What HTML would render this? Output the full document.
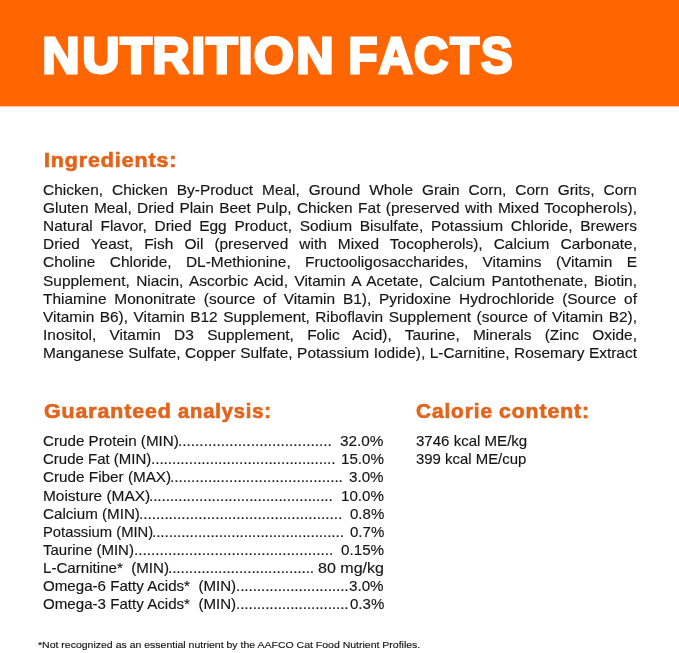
<!DOCTYPE html>
<html lang="en"><head><meta charset="utf-8"><title>Nutrition Facts</title>
<style>
html,body{margin:0;padding:0;background:#fff;}
body{width:679px;height:653px;position:relative;overflow:hidden;font-family:"Liberation Sans",sans-serif;color:#151515;}
.band{position:absolute;left:0;top:0;width:679px;height:107px;background:linear-gradient(to bottom,#ff6600 0,#ff6600 106px,#ffc29a 106px,#ffc29a 107px);}
.ttl{position:absolute;left:0;top:0;}
.t,.h,.l,.d{position:absolute;white-space:pre;transform-origin:0 0;line-height:18px;}
.t,.l,.d{font-size:14.3px;-webkit-text-stroke:0.15px #151515;}
.h{color:#e2641b;font-weight:bold;font-size:19.4px;line-height:24px;-webkit-text-stroke:0.65px #e2641b;letter-spacing:0.85px;}
.l{text-align:justify;text-align-last:justify;white-space:nowrap;}
.d{overflow:hidden;}
</style></head><body>
<div class="band"></div>

<svg class="ttl" width="679" height="106" viewBox="0 0 679 106"><g font-family='"Liberation Sans",sans-serif' font-weight="bold" font-size="50.3" fill="#fff" stroke="#fff" stroke-width="2.8" stroke-linejoin="miter" stroke-miterlimit="2"><text transform="scale(1.03,1)" x="41.11 79.80 116.68 147.87 185.49 199.98 231.30 246.48 287.61" y="73.2">NUTRITION</text><text transform="scale(0.94,1)" x="370.87 402.94 440.33 478.90 511.79" y="73.2">FACTS</text></g></svg>
<div class="h" style="left:43.50px;top:148.00px;transform:scaleX(1.0999)">Ingredients:</div>
<div class="h" style="left:43.85px;top:399.10px;transform:scaleX(1.0982)">Guaranteed</div>
<div class="h" style="left:177.93px;top:399.10px;transform:scaleX(1.0355)">analysis:</div>
<div class="h" style="left:416.46px;top:399.10px;transform:scaleX(1.0729)">Calorie</div>
<div class="h" style="left:499.45px;top:399.10px;transform:scaleX(1.0929)">content:</div>
<div class="t" style="left:42.99px;top:432.20px;transform:scaleX(1.0615)">Crude Protein (MIN)</div>
<div class="t" style="left:340.36px;top:432.20px;transform:scaleX(1.0709)">32.0%</div>
<div class="t" style="left:43.00px;top:450.30px;transform:scaleX(1.0485)">Crude Fat (MIN)</div>
<div class="t" style="left:340.76px;top:450.30px;transform:scaleX(1.0609)">15.0%</div>
<div class="t" style="left:42.99px;top:468.40px;transform:scaleX(1.0682)">Crude Fiber (MAX)</div>
<div class="t" style="left:349.27px;top:468.40px;transform:scaleX(1.0603)">3.0%</div>
<div class="t" style="left:42.74px;top:486.50px;transform:scaleX(1.0796)">Moisture (MAX)</div>
<div class="t" style="left:340.76px;top:486.50px;transform:scaleX(1.0609)">10.0%</div>
<div class="t" style="left:42.99px;top:504.60px;transform:scaleX(1.0609)">Calcium (MIN)</div>
<div class="t" style="left:349.57px;top:504.60px;transform:scaleX(1.0508)">0.8%</div>
<div class="t" style="left:42.79px;top:522.70px;transform:scaleX(1.0351)">Potassium (MIN)</div>
<div class="t" style="left:349.57px;top:522.70px;transform:scaleX(1.0508)">0.7%</div>
<div class="t" style="left:43.45px;top:540.80px;transform:scaleX(1.0500)">Taurine (MIN)</div>
<div class="t" style="left:340.67px;top:540.80px;transform:scaleX(1.0633)">0.15%</div>
<div class="t" style="left:42.77px;top:558.90px;transform:scaleX(1.0575)">L-Carnitine*  (MIN)</div>
<div class="t" style="left:317.65px;top:558.90px;transform:scaleX(1.1230)">80 mg/kg</div>
<div class="t" style="left:43.30px;top:577.00px;transform:scaleX(1.0570)">Omega-6 Fatty Acids*  (MIN)</div>
<div class="t" style="left:349.27px;top:577.00px;transform:scaleX(1.0603)">3.0%</div>
<div class="t" style="left:43.30px;top:595.10px;transform:scaleX(1.0570)">Omega-3 Fatty Acids*  (MIN)</div>
<div class="t" style="left:349.57px;top:595.10px;transform:scaleX(1.0508)">0.3%</div>
<div class="t" style="left:416.27px;top:432.20px;transform:scaleX(1.0524)">3746 kcal ME/kg</div>
<div class="t" style="left:416.28px;top:450.30px;transform:scaleX(1.0433)">399 kcal ME/cup</div>
<div class="t" style="left:38.12px;top:636.10px;font-size:9.8px;transform:scaleX(1.0718)">*Not recognized as an essential nutrient by the AAFCO Cat Food Nutrient Profiles.</div>
<div class="l" style="left:42.84px;top:181.00px;width:549.78px;transform:scaleX(1.0804)">Chicken, Chicken By-Product Meal, Ground Whole Grain Corn, Corn Grits, Corn</div>
<div class="l" style="left:42.84px;top:199.12px;width:549.78px;transform:scaleX(1.0804)">Gluten Meal, Dried Plain Beet Pulp, Chicken Fat (preserved with Mixed Tocopherols),</div>
<div class="l" style="left:42.84px;top:217.24px;width:549.78px;transform:scaleX(1.0804)">Natural Flavor, Dried Egg Product, Sodium Bisulfate, Potassium Chloride, Brewers</div>
<div class="l" style="left:42.84px;top:235.36px;width:549.78px;transform:scaleX(1.0804)">Dried Yeast, Fish Oil (preserved with Mixed Tocopherols), Calcium Carbonate,</div>
<div class="l" style="left:42.84px;top:253.48px;width:549.78px;transform:scaleX(1.0804)">Choline Chloride, DL-Methionine, Fructooligosaccharides, Vitamins (Vitamin E</div>
<div class="l" style="left:42.84px;top:271.60px;width:549.78px;transform:scaleX(1.0804)">Supplement, Niacin, Ascorbic Acid, Vitamin A Acetate, Calcium Pantothenate, Biotin,</div>
<div class="l" style="left:42.84px;top:289.72px;width:549.78px;transform:scaleX(1.0804)">Thiamine Mononitrate (source of Vitamin B1), Pyridoxine Hydrochloride (Source of</div>
<div class="l" style="left:42.84px;top:307.84px;width:549.78px;transform:scaleX(1.0804)">Vitamin B6), Vitamin B12 Supplement, Riboflavin Supplement (source of Vitamin B2),</div>
<div class="l" style="left:42.84px;top:325.96px;width:549.78px;transform:scaleX(1.0804)">Inositol, Vitamin D3 Supplement, Folic Acid), Taurine, Minerals (Zinc Oxide,</div>
<div class="l" style="left:42.84px;top:344.08px;width:549.78px;transform:scaleX(1.0804)">Manganese Sulfate, Copper Sulfate, Potassium Iodide), L-Carnitine, Rosemary Extract</div>
<div class="d" style="left:178.02px;top:432.20px;letter-spacing:-0.018px;transform:scaleX(1.0804)">....................................</div>
<div class="d" style="left:150.52px;top:450.30px;letter-spacing:-0.091px;transform:scaleX(1.0804)">............................................</div>
<div class="d" style="left:170.32px;top:468.40px;letter-spacing:-0.071px;transform:scaleX(1.0804)">.........................................</div>
<div class="d" style="left:149.12px;top:486.50px;letter-spacing:-0.108px;transform:scaleX(1.0804)">............................................</div>
<div class="d" style="left:139.22px;top:504.60px;letter-spacing:-0.055px;transform:scaleX(1.0804)">................................................</div>
<div class="d" style="left:152.22px;top:522.70px;letter-spacing:-0.112px;transform:scaleX(1.0804)">..............................................</div>
<div class="d" style="left:133.62px;top:540.80px;letter-spacing:-0.049px;transform:scaleX(1.0804)">...............................................</div>
<div class="d" style="left:168.12px;top:558.90px;letter-spacing:-0.111px;transform:scaleX(1.0804)">...................................</div>
<div class="d" style="left:235.72px;top:577.00px;letter-spacing:-0.115px;transform:scaleX(1.0804)">...........................</div>
<div class="d" style="left:235.72px;top:595.10px;letter-spacing:-0.115px;transform:scaleX(1.0804)">...........................</div>
</body></html>
